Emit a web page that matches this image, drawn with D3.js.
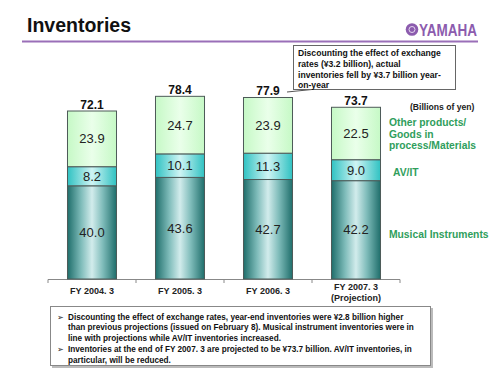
<!DOCTYPE html>
<html><head><meta charset="utf-8">
<script src="https://cdn.jsdelivr.net/npm/d3@7"></script>
<style>body{margin:0;background:#fff}svg{display:block;font-family:"Liberation Sans",Arial,sans-serif}</style>
</head><body><svg id="c" width="500" height="375"></svg>
<script>
const categories = ["FY 2004. 3","FY 2005. 3","FY 2006. 3","FY 2007. 3"];
const categorySub = ["","","","(Projection)"];
const musical = [40.0,43.6,42.7,42.2];
const avit = [8.2,10.1,11.3,9.0];
const other = [23.9,24.7,23.9,22.5];
const totals = [72.1,78.4,77.9,73.7];
const seriesNames = ["Musical Instruments","AV/IT","Other products/ Goods in process/Materials"];
const calloutLines = ["Discounting the effect of exchange","rates (¥3.2 billion), actual","inventories fell by ¥3.7 billion year-","on-year"];
const noteLines = [
 ["➢","Discounting the effect of exchange rates, year-end inventories were ¥2.8 billion higher"],
 ["","than previous projections (issued on February 8). Musical instrument inventories were in"],
 ["","line with projections while AV/IT inventories increased."],
 ["➢","Inventories at the end of FY 2007. 3 are projected to be ¥73.7 billion. AV/IT inventories, in"],
 ["","particular, will be reduced."]
];

const svg = d3.select("#c");
const defs = svg.append("defs");
function grad(id, stops){
  const g = defs.append("linearGradient").attr("id",id).attr("x1","0").attr("x2","1").attr("y1","0").attr("y2","0");
  stops.forEach(s=>g.append("stop").attr("offset",s[0]).attr("stop-color",s[1]));
}
grad("gMus",[[0,"#1f6e6b"],[0.28,"#7fbcba"],[0.5,"#d2ecec"],[0.72,"#7fbcba"],[1,"#1f6e6b"]]);
grad("gAv",[[0,"#30c2c2"],[0.5,"#cff4f4"],[1,"#30c2c2"]]);
grad("gOth",[[0,"#c6f9c6"],[0.5,"#eaffea"],[1,"#c6f9c6"]]);

// header
svg.append("text").attr("x",27).attr("y",32).attr("font-size",19.5).attr("font-weight","bold").attr("fill","#111").text("Inventories");
svg.append("line").attr("x1",22).attr("x2",478).attr("y1",41.5).attr("y2",41.5).attr("stroke","#9a6fb8").attr("stroke-width",2);
svg.append("circle").attr("cx",412).attr("cy",29.5).attr("r",6.3).attr("fill","#8c5cae");
svg.append("circle").attr("cx",412).attr("cy",29.5).attr("r",3).attr("fill","none").attr("stroke","#e6d8f0").attr("stroke-width",1);
svg.append("text").attr("x",419).attr("y",36).attr("font-size",16).attr("font-weight","bold").attr("fill","#8c5cae")
  .attr("textLength",58).attr("lengthAdjust","spacingAndGlyphs").text("YAMAHA");

// scales
const y = d3.scaleLinear().domain([0,80]).range([279, 279-80*2.33]);
const x = d3.scaleBand().domain(categories).range([48,400]).paddingInner(0.443).paddingOuter(0.2215);

// axis
const ax = svg.append("g");
ax.append("line").attr("x1",48).attr("x2",400).attr("y1",279.5).attr("y2",279.5).attr("stroke","#888");
const bounds = d3.range(categories.length+1).map(i => 48 + i*x.step());
ax.selectAll(".tk").data(bounds).join("line").attr("x1",d=>d).attr("x2",d=>d).attr("y1",279.5).attr("y2",283).attr("stroke","#888");

// stacks
const stackData = categories.map((c,i)=>({c, mus:musical[i], av:avit[i], oth:other[i]}));
const stack = d3.stack().keys(["mus","av","oth"])(stackData);
const fills = {mus:"url(#gMus)", av:"url(#gAv)", oth:"url(#gOth)"};
stack.forEach(layer=>{
  const g = svg.append("g");
  g.selectAll("rect").data(layer).join("rect")
    .attr("x",d=>x(d.data.c)).attr("width",x.bandwidth())
    .attr("y",d=>y(d[1])).attr("height",d=>y(d[0])-y(d[1]))
    .attr("fill",fills[layer.key]).attr("stroke","#4d5a58").attr("stroke-width",1);
  g.selectAll("text").data(layer).join("text")
    .attr("x",d=>x(d.data.c)+x.bandwidth()/2).attr("y",d=>(y(d[0])+y(d[1]))/2+4.5)
    .attr("text-anchor","middle").attr("font-size",13).attr("fill","#222")
    .text(d=>(d[1]-d[0]).toFixed(1));
});
// totals
svg.selectAll(".tot").data(categories).join("text")
  .attr("x",d=>x(d)+x.bandwidth()/2).attr("y",(d,i)=>y(totals[i])-2)
  .attr("text-anchor","middle").attr("font-size",12).attr("font-weight","bold").attr("fill","#111")
  .text((d,i)=>totals[i].toFixed(1));
// category labels
svg.selectAll(".cat").data(categories).join("text")
  .attr("x",(d,i)=>x(d)+x.bandwidth()/2).attr("y",(d,i)=>categorySub[i]?289.5:294)
  .attr("text-anchor","middle").attr("font-size",9).attr("font-weight","bold").attr("fill","#222").text(d=>d);
svg.selectAll(".sub").data(categories.filter((d,i)=>categorySub[i])).join("text")
  .attr("x",d=>x(d)+x.bandwidth()/2).attr("y",300.5)
  .attr("text-anchor","middle").attr("font-size",9).attr("font-weight","bold").attr("fill","#222")
  .text(d=>categorySub[categories.indexOf(d)]);

// legend labels
const green = "#2f9e5c";
svg.append("text").attr("x",410).attr("y",110).attr("font-size",8.6).attr("font-weight","bold").attr("fill","#222").text("(Billions of yen)");
const othLines = ["Other products/","Goods in","process/Materials"];
othLines.forEach((t,i)=>svg.append("text").attr("x",389).attr("y",126+i*11.7).attr("font-size",10.3).attr("font-weight","bold").attr("fill",green).text(t));
svg.append("text").attr("x",393).attr("y",176).attr("font-size",10.3).attr("font-weight","bold").attr("fill",green).text(seriesNames[1]);
svg.append("text").attr("x",389).attr("y",238).attr("font-size",10.3).attr("font-weight","bold").attr("fill",green).text(seriesNames[0]);

// callout
svg.append("line").attr("x1",287).attr("y1",92).attr("x2",312).attr("y2",89.5).attr("stroke","#555").attr("stroke-width",1);
svg.append("rect").attr("x",293.5).attr("y",45.5).attr("width",162).attr("height",44).attr("fill","#fff").attr("stroke","#666");
calloutLines.forEach((t,i)=>svg.append("text").attr("x",298).attr("y",56+i*10.8).attr("font-size",8.6).attr("font-weight","bold").attr("fill","#111").text(t));

// bottom note box
svg.append("rect").attr("x",52).attr("y",308).attr("width",381).attr("height",60).attr("fill","#bbb");
svg.append("rect").attr("x",50.5).attr("y",306.5).attr("width",380).attr("height",59).attr("fill","#fff").attr("stroke","#888");
noteLines.forEach((l,i)=>{
  const yy = 320 + i*10.3 + (i>=3?1.5:0);
  if(l[0]) svg.append("text").attr("x",57).attr("y",yy).attr("font-size",8).attr("fill","#222").text(l[0]);
  svg.append("text").attr("x",68).attr("y",yy).attr("font-size",8.2).attr("font-weight","bold").attr("fill","#111").text(l[1]);
});
</script></body></html>
